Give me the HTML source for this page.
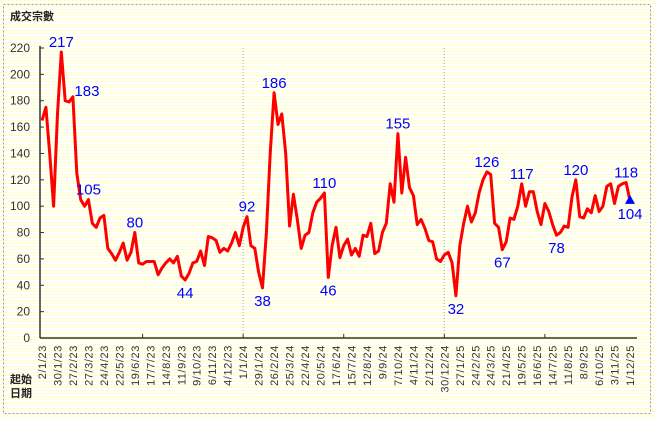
<!DOCTYPE html>
<html><head><meta charset="utf-8"><style>
html,body{margin:0;padding:0;}
body{width:655px;height:420px;overflow:hidden;background:#fff;}
#wrap{position:absolute;left:0;top:0;width:655px;height:420px;background:repeating-linear-gradient(to bottom,#ffffc8 0px,#ffffc8 1px,#ffffff 1px,#ffffff 3px);}
svg text{font-family:"Liberation Sans","Noto Sans CJK TC",sans-serif;}
</style></head><body>
<div id="wrap">
<svg id="chart" width="655" height="420">
<rect x="3.5" y="4.5" width="647" height="409" fill="none" stroke="#999" stroke-dasharray="2,2"/>
<text x="10" y="20" font-size="11" font-weight="bold" fill="#222">成交宗數</text>
<text x="10" y="383" font-size="11" font-weight="bold" fill="#222">起始</text>
<text x="10" y="397" font-size="11" font-weight="bold" fill="#222">日期</text>
<g id="axes"></g>
<g id="marks"></g>
</svg>
</div>
<script>
const values=[165,175,140,100,170,217,180,179,183,125,105,100,105,87,84,91,93,68,64,59,65,72,59,65,80,57,56,58,58,58,48,53,57,60,57,62,47,44,49,57,58,66,55,77,76,74,65,68,66,72,80,70,
84,92,70,68,50,38,80,140,186,162,170,140,85,109,90,68,78,80,95,103,106,110,46,70,84,61,70,75,63,68,62,78,77,87,64,66,80,87,117,103,155,110,137,114,108,86,90,83,74,73,60,58,
63,65,57,32,70,87,100,88,95,110,120,126,124,87,84,67,73,91,90,100,117,100,111,111,96,86,102,96,86,78,80,85,84,107,120,92,91,98,95,108,96,100,115,117,102,115,117,118,104];
const dateLabels=["2/1/23","30/1/23","27/2/23","27/3/23","24/4/23","22/5/23","19/6/23","17/7/23","14/8/23","11/9/23","9/10/23","6/11/23","4/12/23","1/1/24","29/1/24","26/2/24","25/3/24","22/4/24","20/5/24","17/6/24","15/7/24","12/8/24","9/9/24","7/10/24","4/11/24","2/12/24","30/12/24","27/1/25","24/2/25","24/3/25","21/4/25","19/5/25","16/6/25","14/7/25","11/8/25","8/9/25","6/10/25","3/11/25","1/12/25"];
const yTicks=[0,20,40,60,80,100,120,140,160,180,200,220];
const labelIdx=[5,8,12,24,37,53,57,60,73,74,92,107,115,119,124,133,138,151,152];
const labelPos=["a","ar","a","a","b","a","b","a","a","b","a","b","a","b","a","b","a","a","b"];

const NS="http://www.w3.org/2000/svg";
const X0=42,X1=630,Y0=338,Y1=48;
const x=i=>X0+i*(X1-X0)/(values.length-1);
const y=v=>Y0-(v/220)*(Y0-Y1);
function mk(tag,attrs,parent,txt){const e=document.createElementNS(NS,tag);for(const k in attrs)e.setAttribute(k,attrs[k]);if(txt!==undefined)e.textContent=txt;parent.appendChild(e);return e;}
const axes=document.getElementById('axes'),marks=document.getElementById('marks');

[52,104].forEach(w=>{const l=mk('line',{x1:x(w),x2:x(w),y1:Y1,y2:Y0,stroke:'#aaa','stroke-dasharray':'1,2'},axes);

});
yTicks.forEach(t=>{const tl=mk('line',{x1:40,x2:44,y1:y(t),y2:y(t),stroke:'#333'},axes);


const tx=mk('text',{x:30,y:y(t)+4,'text-anchor':'end','font-size':12,fill:'#333'},axes,t);

});
const ya=mk('line',{x1:40,x2:40,y1:Y1-2,y2:Y0,stroke:'#333','stroke-width':1.5},axes);


const xa=mk('line',{x1:40,x2:637,y1:Y0,y2:Y0,stroke:'#333','stroke-width':1.5},axes);


for(let w=26;w<values.length;w+=26){const t=mk('line',{x1:x(w),x2:x(w),y1:Y0,y2:Y0-4,stroke:'#333'},axes);

}
dateLabels.forEach((d,k)=>{const px=x(k*4)+4;const t=mk('text',{x:0,y:0,'text-anchor':'end','font-size':11,'letter-spacing':'0.6',fill:'#333',transform:`translate(${px},345) rotate(-90)`},axes,d);

});

const pts=values.map((v,i)=>x(i).toFixed(1)+','+y(v).toFixed(1)).join(' ');
const pl=mk('polyline',{points:pts,fill:'none',stroke:'#ff0000','stroke-width':3,'stroke-linejoin':'round'},marks);


const last=values.length-1;
const tri=mk('polygon',{points:`${x(last)},${y(values[last])-6} ${x(last)-5},${y(values[last])+3} ${x(last)+5},${y(values[last])+3}`,fill:'#0000ff'},marks);


labelIdx.forEach((i,k)=>{const p=labelPos[k];let lx=x(i),ly;
if(p==='b'){ly=y(values[i])+18;}else{ly=y(values[i])-5;}
if(p==='ar'){lx+=14;ly+=4;}
const t=mk('text',{x:lx,y:ly,'text-anchor':'middle','font-size':15,fill:'#0000ff'},marks,values[i]);

});
</script>
</body></html>
